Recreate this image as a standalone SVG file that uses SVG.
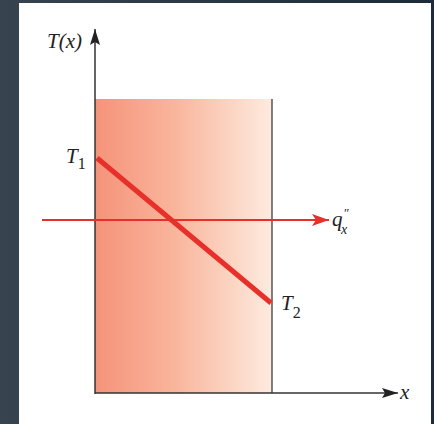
<svg xmlns="http://www.w3.org/2000/svg" width="434" height="424" viewBox="0 0 434 424">
  <defs>
    <linearGradient id="bg" x1="0" y1="0" x2="1" y2="0">
      <stop offset="0" stop-color="#37444f"/>
      <stop offset="1" stop-color="#1d2a38"/>
    </linearGradient>
    <linearGradient id="slab" x1="0" y1="0" x2="1" y2="0">
      <stop offset="0" stop-color="#f5937a"/>
      <stop offset="0.45" stop-color="#f9b59c"/>
      <stop offset="1" stop-color="#fdebdf"/>
    </linearGradient>
    <marker id="ahBig" viewBox="0 0 16 10" refX="16" refY="5" markerWidth="16" markerHeight="10" markerUnits="userSpaceOnUse" orient="auto">
      <path d="M0,0 L16,5 L0,10 L3,5 Z" fill="#222"/>
    </marker>
    <marker id="ahRed" viewBox="0 0 17 12" refX="17" refY="6" markerWidth="17" markerHeight="12" markerUnits="userSpaceOnUse" orient="auto">
      <path d="M0,0 L17,6 L0,12 L4,6 Z" fill="#e8302a"/>
    </marker>
    <style>
      .lbl { font-family: "Liberation Serif", "DejaVu Serif", serif; font-style: italic; font-size: 21px; fill: #222; }
      .sub { font-family: "Liberation Serif", "DejaVu Serif", serif; font-style: normal; font-size: 16px; fill: #222; }
      .axis { stroke: #333; stroke-width: 1.5; fill: none; }
    </style>
  </defs>
  <rect x="0" y="0" width="434" height="424" fill="url(#bg)"/>
  <rect x="19" y="3" width="412" height="421" fill="#ffffff"/>

  <g id="slab-node">
    <rect x="95" y="99" width="177" height="294" fill="url(#slab)"/>
    <line x1="272" y1="99" x2="272" y2="393" stroke="#555" stroke-width="1.5"/>
  </g>

  <g id="connectors">
    <line id="y-axis" class="axis" x1="95" y1="394" x2="95" y2="29" marker-end="url(#ahBig)"/>
    <line id="x-axis" class="axis" x1="95" y1="393" x2="398" y2="393" marker-end="url(#ahBig)"/>
    <line id="heat-flux" x1="42" y1="220" x2="329" y2="220" stroke="#e8302a" stroke-width="2.2" marker-end="url(#ahRed)"/>
    <line id="temp-profile" x1="97" y1="158" x2="271" y2="303" stroke="#e8302a" stroke-width="5"/>
  </g>

  <g id="label-Tx">
    <text class="lbl" x="47" y="48">T(x)</text>
  </g>
  <g id="label-T1">
    <text class="lbl" x="66" y="163">T<tspan class="sub" dy="6">1</tspan></text>
  </g>
  <g id="label-T2">
    <text class="lbl" x="281" y="310">T<tspan class="sub" dy="8">2</tspan></text>
  </g>
  <g id="label-q">
    <text class="lbl" x="332" y="226">q</text>
    <text class="sub" x="344" y="217" style="font-size:13px">″</text>
    <text class="sub" x="341" y="234" style="font-style:italic;font-size:14px">x</text>
  </g>
  <g id="label-x">
    <text class="lbl" x="400" y="399">x</text>
  </g>
</svg>
